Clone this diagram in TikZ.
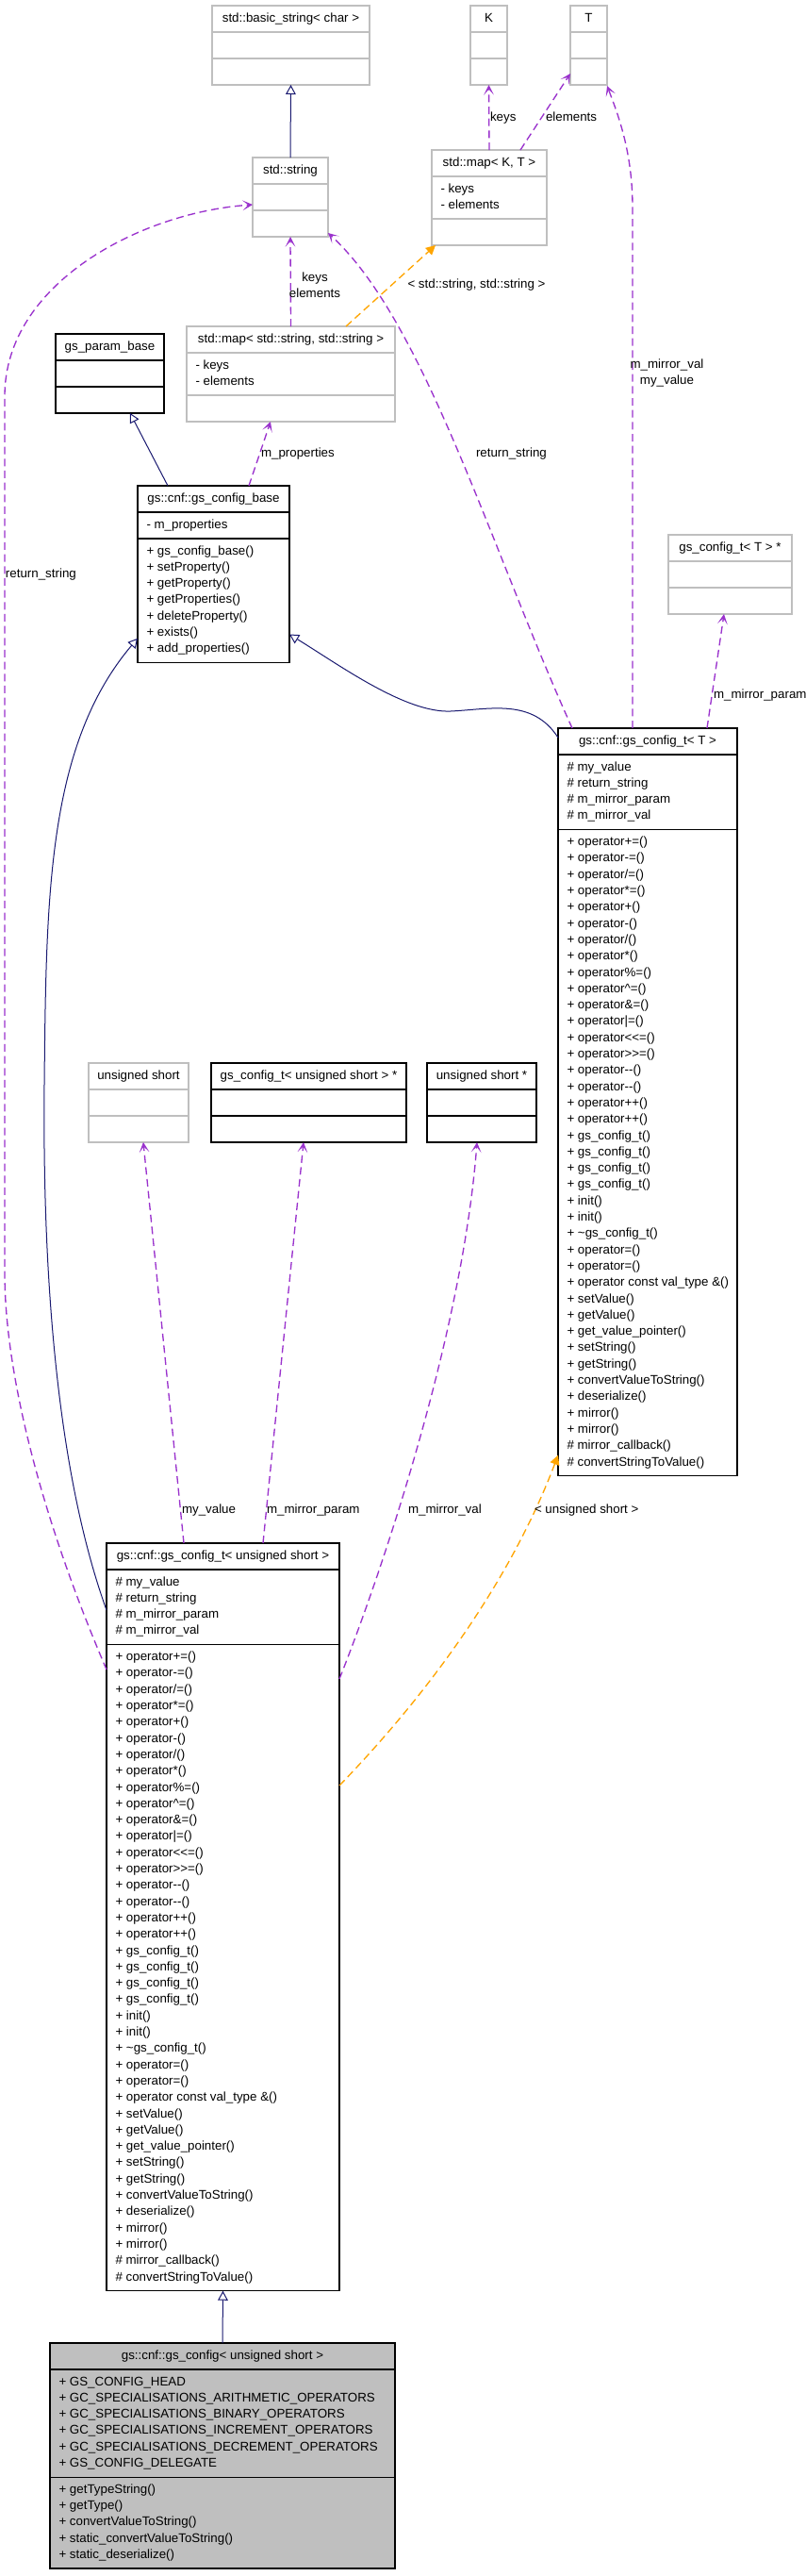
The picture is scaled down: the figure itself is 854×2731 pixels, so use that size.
\documentclass[tikz,border=0pt]{standalone}
\usepackage{fontspec}
\setmainfont{Liberation Sans}
\usetikzlibrary{arrows.meta,calc}
\definecolor{navyedge}{RGB}{25,25,112}
\definecolor{purpleedge}{RGB}{154,50,205}
\definecolor{orangeedge}{RGB}{255,165,0}
\definecolor{undocgray}{RGB}{191,191,191}
\definecolor{fillgray}{RGB}{191,191,191}
\tikzset{
  every node/.style={font=\fontsize{10}{13}\selectfont, inner sep=0pt, outer sep=0pt},
  docbox/.style={draw=black, line width=1pt, rectangle},
  undocbox/.style={draw=undocgray, line width=1pt, rectangle},
  fillbox/.style={draw=black, fill=fillgray, line width=1pt, rectangle},
  docbox line/.style={draw=black, line width=1pt},
  undocbox line/.style={draw=undocgray, line width=1pt},
  fillbox line/.style={draw=black, line width=1pt},
  txt/.style={text=black},
  elabel/.style={text=black},
  inherit/.style={draw=navyedge, line width=0.75pt, -{Triangle[open, length=7.5pt, width=8pt]}},
  usage/.style={draw=purpleedge, line width=1pt, dash pattern=on 6pt off 3.5pt, -{Stealth[length=8pt, width=8pt, inset=4.5pt]}},
  tmpl/.style={draw=orangeedge, line width=1pt, dash pattern=on 6pt off 3.5pt, -{Triangle[length=7.5pt, width=7.5pt]}},
}
% #1 name, #2 style, #3 x1, #4 x2, #5 top, #6 attr count, #7 method count, #8 title
\newcommand{\umlclass}[8]{%
  \pgfmathsetmacro{\clsA}{#5+28}%
  \pgfmathsetmacro{\clsB}{\clsA+((#6<2)?28:(17.3*#6+10.4))}%
  \pgfmathsetmacro{\clsC}{\clsB+((#7<2)?28:(17.3*#7+10.4))}%
  \node[#2, anchor=north west, minimum width={(#4-#3)*0.75pt}, minimum height={(\clsC-#5)*0.75pt}] (#1) at (#3,#5) {};
  \draw[#2 line] (#3,\clsA) -- (#4,\clsA) (#3,\clsB) -- (#4,\clsB);
  \node[txt, anchor=base] (#1-title) at ({(#3+#4)/2},{#5+17}) {#8};
  \xdef\attrtop{\clsA}\xdef\methtop{\clsB}%
}
% #1 name prefix, #2 x1, #3 section top, #4 list macro
\newcommand{\umllines}[4]{%
  \foreach \t [count=\i] in #4 {
    \node[txt, anchor=base west] (#1\i) at ({#2+9.5},{#3+17+17.3*(\i-1)}) {\t};
  }%
}
\def\lstKeys{- keys,- elements}
\def\lstBaseAttr{- m\_properties}
\def\lstBaseMeth{+ gs\_config\_base(),+ setProperty(),+ getProperty(),+ getProperties(),+ deleteProperty(),+ exists(),+ add\_properties()}
\def\lstTAttr{\# my\_value,\# return\_string,\# m\_mirror\_param,\# m\_mirror\_val}
\def\lstTMeth{+ operator+=(),+ operator-=(),+ operator/=(),+ operator*=(),+ operator+(),+ operator-(),+ operator/(),+ operator*(),+ operator\%=(),+ operator\textasciicircum=(),+ operator\&=(),+ operator|=(),+ operator<{}<=(),+ operator>{}>=(),+ operator-{}-(),+ operator-{}-(),+ operator++(),+ operator++(),+ gs\_config\_t(),+ gs\_config\_t(),+ gs\_config\_t(),+ gs\_config\_t(),+ init(),+ init(),+ \textasciitilde gs\_config\_t(),+ operator=(),+ operator=(),+ operator const val\_type \&(),+ setValue(),+ getValue(),+ get\_value\_pointer(),+ setString(),+ getString(),+ convertValueToString(),+ deserialize(),+ mirror(),+ mirror(),\# mirror\_callback(),\# convertStringToValue()}
\def\lstConfAttr{+ GS\_CONFIG\_HEAD,+ GC\_SPECIALISATIONS\_ARITHMETIC\_OPERATORS,+ GC\_SPECIALISATIONS\_BINARY\_OPERATORS,+ GC\_SPECIALISATIONS\_INCREMENT\_OPERATORS,+ GC\_SPECIALISATIONS\_DECREMENT\_OPERATORS,+ GS\_CONFIG\_DELEGATE}
\def\lstConfMeth{+ getTypeString(),+ getType(),+ convertValueToString(),+ static\_convertValueToString(),+ static\_deserialize()}
\begin{document}
\begin{tikzpicture}[x=0.75pt, y=-0.75pt]
\fill[white] (0,0) rectangle (854,2731);
\useasboundingbox (0,0) rectangle (854,2731);
% classes
\umlclass{basic}{undocbox}{225}{392}{6}{0}{0}{std::basic\_string< char >}
\umlclass{K}{undocbox}{499}{538}{6}{0}{0}{K}
\umlclass{T}{undocbox}{605}{644}{6}{0}{0}{T}
\umlclass{string}{undocbox}{268}{348}{167}{0}{0}{std::string}
\umlclass{mapKT}{undocbox}{458}{580}{159}{2}{0}{std::map< K, T >}
\umllines{mapKTa}{458}{\attrtop}{\lstKeys}
\umlclass{mapSS}{undocbox}{198}{419}{346}{2}{0}{std::map< std::string, std::string >}
\umllines{mapSSa}{198}{\attrtop}{\lstKeys}
\umlclass{gsparam}{docbox}{59}{174}{354}{0}{0}{gs\_param\_base}
\umlclass{gsbase}{docbox}{146}{307}{515}{1}{7}{gs::cnf::gs\_config\_base}
\umllines{gsbasea}{146}{\attrtop}{\lstBaseAttr}
\umllines{gsbasem}{146}{\methtop}{\lstBaseMeth}
\umlclass{gsTptr}{undocbox}{709}{840}{567}{0}{0}{gs\_config\_t< T > *}
\umlclass{gsT}{docbox}{592}{782}{772}{4}{39}{gs::cnf::gs\_config\_t< T >}
\umllines{gsTa}{592}{\attrtop}{\lstTAttr}
\umllines{gsTm}{592}{\methtop}{\lstTMeth}
\umlclass{us}{undocbox}{94}{200}{1127}{0}{0}{unsigned short}
\umlclass{gsusptr}{docbox}{224}{431}{1127}{0}{0}{gs\_config\_t< unsigned short > *}
\umlclass{usptr}{docbox}{453}{569}{1127}{0}{0}{unsigned short *}
\umlclass{gsus}{docbox}{113}{360}{1636}{4}{39}{gs::cnf::gs\_config\_t< unsigned short >}
\umllines{gsusa}{113}{\attrtop}{\lstTAttr}
\umllines{gsusm}{113}{\methtop}{\lstTMeth}
\umlclass{gsconf}{fillbox}{53}{419}{2484}{6}{5}{gs::cnf::gs\_config< unsigned short >}
\umllines{gsconfa}{53}{\attrtop}{\lstConfAttr}
\umllines{gsconfm}{53}{\methtop}{\lstConfMeth}
% edges
\draw[inherit] (string.north) -- (basic.south);
\draw[usage] (mapKT.north) -- (K.south);
\draw[usage] ($(mapKT.north west)+(94,0)$) -- ($(T.south west)+(0,-12)$);
\draw[usage] ($(gsT.north west)+(79,0)$) -- ($(gsT.north west)+(79,-552)$) .. controls ($(T.south east)+(27,70)$) and ($(T.south east)+(11,30)$) .. ($(T.south east)+(0,1)$);
\draw[usage] ($(gsT.north west)+(158,0)$) -- ($(gsTptr.south west)+(59,0)$);
\draw[usage] ($(gsT.north west)+(15,0)$) .. controls ($(gsT.north west)+(-72,-192)$) and ($(string.south east)+(102,89)$) .. ($(string.south east)+(0,-4)$);
\draw[usage] ($(gsus.north west)+(0,134)$) .. controls (40,1600) and (5,1450) .. (5,1350) -- (5,420) .. controls (5,300) and (150,225) .. ($(string.west)+(0,8)$);
\draw[usage] (mapSS.north) -- (string.south);
\draw[tmpl] ($(mapSS.north west)+(169,0)$) -- ($(mapKT.south west)+(4,0)$);
\draw[usage] ($(gsbase.north west)+(118,0)$) -- ($(mapSS.south west)+(89,0)$);
\draw[inherit] ($(gsbase.north west)+(32,0)$) -- ($(gsparam.south west)+(79,0)$);
\draw[inherit] ($(gsT.north west)+(0,10)$) .. controls (565,740) and (520,752) .. (478,754) .. controls (430,756) and (360,705) .. ($(gsbase.south east)+(0,-30)$);
\draw[inherit] ($(gsus.north west)+(0,71)$) .. controls (60,1560) and (45,1350) .. (47,1150) .. controls (49,950) and (50,790) .. ($(gsbase.west)+(0,68)$);
\draw[usage] ($(gsus.north west)+(82,0)$) -- ($(us.south west)+(58,0)$);
\draw[usage] ($(gsus.north west)+(166,0)$) -- ($(gsusptr.south west)+(98,0)$);
\draw[usage] ($(gsus.north east)+(0,144)$) .. controls (400,1680) and (490,1420) .. ($(usptr.south west)+(53,0)$);
\draw[tmpl] ($(gsus.north east)+(0,257)$) .. controls (450,1800) and (540,1680) .. ($(gsT.south west)+(0,-22)$);
\draw[inherit] (gsconf.north) -- (gsus.south);
% edge labels
\node[elabel, anchor=base west] (lkeysK) at (520,128) {keys};
\node[elabel, anchor=base west] (lelemT) at (579,128) {elements};
\node[elabel, align=center] (lmirrT) at (707.5,395.5) {m\_mirror\_val\\my\_value};
\node[elabel, align=center] (lkeysS) at (334,302) {keys\\elements};
\node[elabel] (ltmplSS) at (505.5,302) {< std::string, std::string >};
\node[elabel, anchor=west] (lmprop) at (277,481) {m\_properties};
\node[elabel, anchor=west] (lretR) at (505,481) {return\_string};
\node[elabel, anchor=west] (lretL) at (6,609) {return\_string};
\node[elabel, anchor=west] (lmparT) at (757,737) {m\_mirror\_param};
\node[elabel, anchor=west] (lmyval) at (193,1601) {my\_value};
\node[elabel, anchor=west] (lmparU) at (283,1601) {m\_mirror\_param};
\node[elabel, anchor=west] (lmvalU) at (433,1601) {m\_mirror\_val};
\node[elabel, anchor=west] (ltmplU) at (567,1601) {< unsigned short >};
\end{tikzpicture}
\end{document}
